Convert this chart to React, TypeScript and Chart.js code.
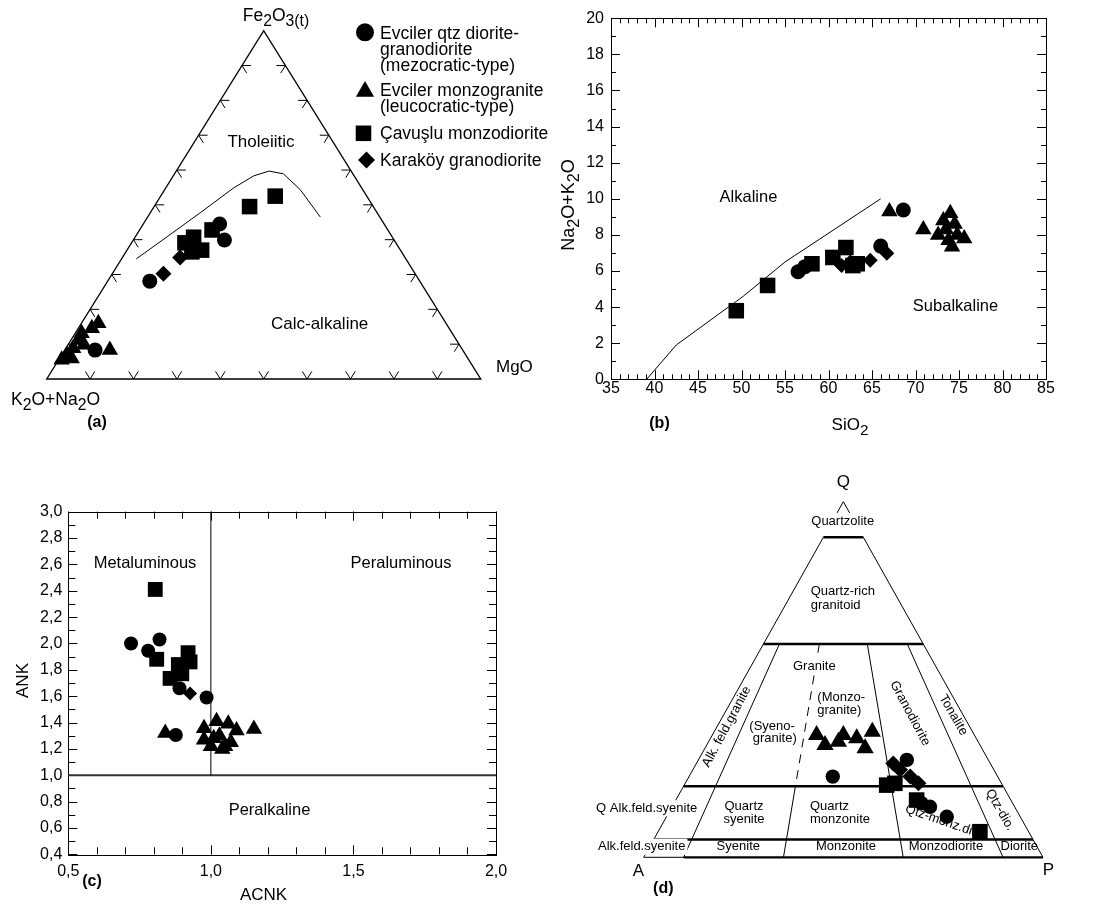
import React, { useEffect, useRef } from 'react';
import { Chart, registerables } from 'chart.js';

Chart.register(...registerables);

const FONT = '"Liberation Sans", Arial, Helvetica, sans-serif';
const INK = '#000000';

/* ---------- (a) AFM ternary: Fe2O3(t) top, MgO right, K2O+Na2O left (wt.% of the sum) ---------- */
const afmMezoFe = [44.5, 39.9, 28.1, 8.3];
const afmMezoMg = [17.6, 21.0, 9.7, 7.0];
const afmLeucoFe = [16.0, 14.6, 13.1, 11.2, 8.8, 6.9, 5.5, 5.9, 8.3, 9.8];
const afmLeucoMg = [3.9, 3.1, 1.5, 1.7, 1.7, 1.2, 0.7, 2.8, 10.4, 3.7];
const afmCavusluFe = [52.5, 49.5, 42.8, 40.7, 39.1, 37.0, 36.5];
const afmCavusluMg = [26.4, 22.0, 16.7, 13.5, 12.3, 17.2, 15.2];
const afmKarakoyFe = [30.2, 34.9];
const afmKarakoyMg = [11.8, 13.3];
// Tholeiitic / calc-alkaline boundary
const afmDividerFe = [34.5, 40.8, 47.7, 54.8, 58.3, 59.7, 58.9, 54.3, 46.5];
const afmDividerMg = [3.4, 7.3, 11.5, 15.6, 18.5, 21.4, 25.1, 31.3, 39.8];

/* ---------- (b) SiO2 vs Na2O+K2O ---------- */
const sio2Ticks = [35, 40, 45, 50, 55, 60, 65, 70, 75, 80, 85];
const alkTicks = [0, 2, 4, 6, 8, 10, 12, 14, 16, 18, 20];
const tasMezoSi = [56.5, 57.3, 66.0, 68.6];
const tasMezoAlk = [5.96, 6.24, 7.38, 9.38];
const tasLeucoSi = [67.0, 70.9, 72.6, 73.2, 74.0, 74.5, 75.6, 74.2, 73.8, 73.5, 74.8];
const tasLeucoAlk = [9.3, 8.3, 8.0, 8.8, 9.2, 8.6, 7.8, 7.35, 7.7, 8.3, 8.0];
const tasCavusluSi = [49.4, 53.0, 58.1, 60.5, 62.0, 62.8, 63.3];
const tasCavusluAlk = [3.8, 5.2, 6.4, 6.75, 7.3, 6.3, 6.4];
const tasKarakoySi = [61.5, 62.5, 64.8, 66.7];
const tasKarakoyAlk = [6.3, 6.5, 6.6, 6.98];
// Alkaline / subalkaline boundary
const tasDividerSi = [39.1, 42.5, 50.2, 55.0, 66.0];
const tasDividerAlk = [0, 1.9, 4.6, 6.5, 10.0];

/* ---------- (c) ACNK vs ANK ---------- */
const acnkTicks = [0.5, 1.0, 1.5, 2.0];
const ankTicks = [0.4, 0.6, 0.8, 1.0, 1.2, 1.4, 1.6, 1.8, 2.0, 2.2, 2.4, 2.6, 2.8, 3.0];
const shandMezoAcnk = [0.72, 0.82, 0.78, 0.89, 0.985, 0.877];
const shandMezoAnk = [2.0, 2.03, 1.945, 1.66, 1.59, 1.305];
const shandLeucoAcnk = [0.84, 0.976, 1.02, 1.061, 1.09, 1.151, 0.976, 1.0, 1.03, 1.05, 1.07, 1.04, 1.01];
const shandLeucoAnk = [1.32, 1.356, 1.41, 1.39, 1.34, 1.35, 1.27, 1.22, 1.3, 1.22, 1.25, 1.2, 1.28];
const shandCavusluAcnk = [0.805, 0.81, 0.92, 0.927, 0.886, 0.898, 0.857];
const shandCavusluAnk = [2.41, 1.88, 1.93, 1.86, 1.84, 1.77, 1.735];
const shandKarakoyAcnk = [0.927];
const shandKarakoyAnk = [1.62];
const shandHorizAcnk = [0.5, 2.0];
const shandHorizAnk = [1.0, 1.0];
const shandVertAcnk = [1.0, 1.0];
const shandVertAnk = [1.0, 3.0];

/* ---------- (d) QAP ternary: Q top, P right, A left (modal %) ---------- */
const qapMezoQ = [22.7, 27.4, 15.2, 14.2, 11.4];
const qapMezoP = [36.0, 52.2, 62.0, 64.6, 70.2];
const qapLeucoQ = [34.4, 31.6, 32.5, 34.4, 33.5, 30.7, 35.3];
const qapLeucoP = [26.1, 29.6, 32.5, 32.8, 36.6, 40.1, 39.6];
const qapCavusluQ = [20.3, 20.8, 16.1, 7.2];
const qapCavusluP = [50.7, 52.5, 60.3, 80.6];
const qapKarakoyQ = [26.4, 24.6, 22.7, 20.8];
const qapKarakoyP = [49.3, 51.9, 55.4, 58.4];
// Streckeisen field limits: Q levels and P/(A+P) ratios
const qapQLevels = [0.05, 0.2, 0.6, 0.9];
const qapRatios = [0.1, 0.35, 0.65, 0.9];

const legendRows = [
  { style: 'circle', lines: ['Evciler qtz diorite-', 'granodiorite', '(mezocratic-type)'] },
  { style: 'triangle', lines: ['Evciler monzogranite', '(leucocratic-type)'] },
  { style: 'rect', lines: ['Çavuşlu monzodiorite'] },
  { style: 'rectRot', lines: ['Karaköy granodiorite'] },
];

/* ---------- helpers ---------- */
const ternary = (top: number[], right: number[]) =>
  top.map((t, i) => ({ x: right[i] / 100 + t / 200, y: t / 100 }));
const pairs = (xs: number[], ys: number[]) => xs.map((x, i) => ({ x, y: ys[i] }));

function markers(data: any[], pointStyle: string, radius: number) {
  return {
    data, pointStyle, pointRadius: radius, pointHoverRadius: radius,
    backgroundColor: INK, borderColor: INK, borderWidth: 0, showLine: false, clip: false,
  };
}
function polyline(data: any[], width = 1, color = INK) {
  return {
    data, showLine: true, pointRadius: 0, pointHoverRadius: 0, borderColor: color,
    borderWidth: width, fill: false, tension: 0, clip: false,
  };
}

type Run = [string, boolean?];
function drawRich(ctx: CanvasRenderingContext2D, runs: Run[], x: number, y: number, size: number,
  align: 'left' | 'center' = 'left', angle = 0) {
  const main = `${size}px ${FONT}`;
  const sub = `${size * 0.9}px ${FONT}`;
  let w = 0;
  runs.forEach(([t, s]) => { ctx.font = s ? sub : main; w += ctx.measureText(t).width; });
  ctx.save();
  ctx.translate(x, y);
  ctx.rotate(angle);
  ctx.fillStyle = INK;
  ctx.textAlign = 'left';
  ctx.textBaseline = 'alphabetic';
  let cx = align === 'center' ? -w / 2 : 0;
  runs.forEach(([t, s]) => {
    ctx.font = s ? sub : main;
    ctx.fillText(t, cx, s ? size * 0.3 : 0);
    cx += ctx.measureText(t).width;
  });
  ctx.restore();
}

function drawText(ctx: CanvasRenderingContext2D, text: string, x: number, y: number,
  o: { size?: number; bold?: boolean; align?: CanvasTextAlign; angle?: number; bg?: boolean } = {}) {
  const size = o.size ?? 16;
  const align = o.align ?? 'center';
  ctx.save();
  ctx.translate(x, y);
  ctx.rotate(o.angle ?? 0);
  ctx.font = `${o.bold ? 'bold ' : ''}${size}px ${FONT}`;
  ctx.textAlign = align;
  ctx.textBaseline = 'middle';
  if (o.bg) {
    const w = ctx.measureText(text).width;
    const x0 = align === 'left' ? 0 : align === 'right' ? -w : -w / 2;
    ctx.fillStyle = '#ffffff';
    ctx.fillRect(x0 - 2, -size * 0.62, w + 4, size * 1.24);
  }
  ctx.fillStyle = INK;
  ctx.fillText(text, 0, 0);
  ctx.restore();
}

function drawMarker(ctx: CanvasRenderingContext2D, style: string, x: number, y: number, r: number) {
  ctx.beginPath();
  if (style === 'circle') {
    ctx.arc(x, y, r, 0, Math.PI * 2);
  } else if (style === 'triangle') {
    const a = (2 * Math.PI) / 3;
    ctx.moveTo(x, y - r);
    ctx.lineTo(x + r * Math.sin(a), y - r * Math.cos(a));
    ctx.lineTo(x + r * Math.sin(2 * a), y - r * Math.cos(2 * a));
  } else if (style === 'rect') {
    const s = r * Math.SQRT1_2;
    ctx.rect(x - s, y - s, 2 * s, 2 * s);
  } else {
    ctx.moveTo(x - r, y);
    ctx.lineTo(x, y - r);
    ctx.lineTo(x + r, y);
    ctx.lineTo(x, y + r);
  }
  ctx.closePath();
  ctx.fillStyle = INK;
  ctx.fill();
}

const baseOptions = (padding: any) => ({
  animation: false as const,
  responsive: false,
  events: [] as any[],
  layout: { padding },
  plugins: { legend: { display: false }, tooltip: { enabled: false } },
});

const hiddenUnitScales = {
  x: { type: 'linear', min: 0, max: 1, display: false },
  y: { type: 'linear', min: 0, max: 1, display: false },
};

function frameTicks(id: string, xMajor: number[], xMinor: number[], yMajor: number[], yMinor: number[],
  majorLen: number, minorLen: number) {
  return {
    id,
    beforeDatasetsDraw(chart: any) {
      const { ctx, chartArea: a } = chart;
      const sx = chart.scales.x;
      const sy = chart.scales.y;
      ctx.save();
      ctx.strokeStyle = INK;
      ctx.lineWidth = 1;
      ctx.beginPath();
      const tx = (v: number, len: number) => {
        const p = Math.round(sx.getPixelForValue(v)) + 0.5;
        ctx.moveTo(p, a.bottom); ctx.lineTo(p, a.bottom - len);
        ctx.moveTo(p, a.top); ctx.lineTo(p, a.top + len);
      };
      const ty = (v: number, len: number) => {
        const p = Math.round(sy.getPixelForValue(v)) + 0.5;
        ctx.moveTo(a.left, p); ctx.lineTo(a.left + len, p);
        ctx.moveTo(a.right, p); ctx.lineTo(a.right - len, p);
      };
      xMinor.forEach((v) => tx(v, minorLen));
      xMajor.forEach((v) => tx(v, majorLen));
      yMinor.forEach((v) => ty(v, minorLen));
      yMajor.forEach((v) => ty(v, majorLen));
      ctx.stroke();
      ctx.strokeRect(Math.round(a.left) + 0.5, Math.round(a.top) + 0.5,
        Math.round(a.right - a.left), Math.round(a.bottom - a.top));
      ctx.restore();
    },
  };
}

const range = (from: number, to: number, step: number) => {
  const out: number[] = [];
  for (let v = from; v <= to + 1e-9; v += step) out.push(Math.round(v * 1000) / 1000);
  return out;
};

/* ---------- (a) ---------- */
const afmDeco = {
  id: 'afmDeco',
  beforeDatasetsDraw(chart: any) {
    const { ctx } = chart;
    const sx = chart.scales.x;
    const sy = chart.scales.y;
    const pt = (fe: number, mg: number) => [sx.getPixelForValue(mg + fe / 2), sy.getPixelForValue(fe)];
    const [ax, ay] = pt(0, 0);
    const [fx, fy] = pt(1, 0);
    const [mx, my] = pt(0, 1);
    ctx.save();
    ctx.strokeStyle = INK;
    ctx.lineWidth = 1.4;
    ctx.beginPath();
    ctx.moveTo(ax, ay); ctx.lineTo(fx, fy); ctx.lineTo(mx, my); ctx.closePath();
    ctx.stroke();
    const unit = (dx: number, dy: number) => { const l = Math.hypot(dx, dy); return [dx / l, dy / l]; };
    const dAF = unit(fx - ax, fy - ay);
    const dMF = unit(fx - mx, fy - my);
    const dFM = [-dMF[0], -dMF[1]];
    const dFA = [-dAF[0], -dAF[1]];
    const L = 9;
    ctx.lineWidth = 1;
    ctx.beginPath();
    const tick = (x: number, y: number, d1: number[], d2: number[]) => {
      ctx.moveTo(x + d1[0] * L, y + d1[1] * L); ctx.lineTo(x, y); ctx.lineTo(x + d2[0] * L, y + d2[1] * L);
    };
    for (let i = 1; i <= 9; i++) {
      const f = i / 10;
      tick(ax + (fx - ax) * f, ay + (fy - ay) * f, [1, 0], dFM);
      tick(mx + (fx - mx) * f, my + (fy - my) * f, [-1, 0], dFA);
      tick(ax + (mx - ax) * f, ay, dAF, dMF);
    }
    ctx.stroke();
    ctx.restore();
  },
  afterDatasetsDraw(chart: any) {
    const { ctx } = chart;
    drawRich(ctx, [['Fe'], ['2', true], ['O'], ['3(t)', true]], 276, 21, 17.5, 'center');
    drawRich(ctx, [['K'], ['2', true], ['O+Na'], ['2', true], ['O']], 11, 405, 17.5, 'left');
    drawText(ctx, 'MgO', 496, 367, { size: 17, align: 'left' });
    drawText(ctx, '(a)', 97, 423, { size: 16, bold: true });
    drawText(ctx, 'Tholeiitic', 261, 142, { size: 17 });
    drawText(ctx, 'Calc-alkaline', 271, 324, { size: 17, align: 'left' });

    // legend
    const markerPos = [[365, 32.3, 9], [365, 91.5, 10.5], [363.5, 133.3, 11], [366.5, 160, 8.5]];
    const baselines = [[38.5, 54.5, 70.5], [95.5, 111.5], [138.8], [165.5]];
    legendRows.forEach((row, i) => {
      const [x, y, r] = markerPos[i];
      drawMarker(ctx, row.style, x, y, r);
      ctx.save();
      ctx.font = `17.5px ${FONT}`;
      ctx.fillStyle = INK;
      ctx.textAlign = 'left';
      ctx.textBaseline = 'alphabetic';
      row.lines.forEach((line, j) => ctx.fillText(line, 380, baselines[i][j]));
      ctx.restore();
    });
  },
};

const afmConfig = () => ({
  type: 'scatter',
  data: {
    datasets: [
      markers(ternary(afmCavusluFe, afmCavusluMg), 'rect', 11),
      markers(ternary(afmKarakoyFe, afmKarakoyMg), 'rectRot', 8),
      markers(ternary(afmMezoFe, afmMezoMg), 'circle', 7.5),
      markers(ternary(afmLeucoFe, afmLeucoMg), 'triangle', 9.5),
      polyline(ternary(afmDividerFe, afmDividerMg), 1),
    ],
  },
  options: { ...baseOptions({ left: 46.7, top: 30.7, right: 79.3, bottom: 61 }), scales: hiddenUnitScales },
  plugins: [afmDeco],
});

/* ---------- (b) ---------- */
const tasText = {
  id: 'tasText',
  afterDatasetsDraw(chart: any) {
    const { ctx } = chart;
    drawText(ctx, 'Alkaline', 208.5, 197, { size: 16.5 });
    drawText(ctx, 'Subalkaline', 415.5, 306, { size: 16.5 });
    drawText(ctx, '(b)', 119.5, 423.5, { size: 16, bold: true });
    drawRich(ctx, [['SiO'], ['2', true]], 310, 429.5, 17, 'center');
    drawRich(ctx, [['Na'], ['2', true], ['O+K'], ['2', true], ['O']], 33.5, 205, 18, 'center', -Math.PI / 2);
  },
};

const tasConfig = () => ({
  type: 'scatter',
  data: {
    datasets: [
      markers(pairs(tasMezoSi, tasMezoAlk), 'circle', 7.5),
      markers(pairs(tasKarakoySi, tasKarakoyAlk), 'rectRot', 7.5),
      markers(pairs(tasCavusluSi, tasCavusluAlk), 'rect', 11),
      markers(pairs(tasLeucoSi, tasLeucoAlk), 'triangle', 9.5),
      polyline(pairs(tasDividerSi, tasDividerAlk), 1),
    ],
  },
  options: {
    ...baseOptions({ left: 0, top: 18.3, right: 51, bottom: 0 }),
    scales: {
      x: {
        type: 'linear', min: 35, max: 85,
        grid: { display: false, drawTicks: false }, border: { display: false },
        ticks: { color: INK, font: { family: FONT, size: 16 }, padding: 0, autoSkip: false, maxRotation: 0,
          callback: (v: number) => String(v) },
        afterBuildTicks: (s: any) => { s.ticks = sio2Ticks.map((value) => ({ value })); },
        afterFit: (s: any) => { s.height = 60.7; },
      },
      y: {
        type: 'linear', min: 0, max: 20,
        grid: { display: false, drawTicks: false }, border: { display: false },
        ticks: { color: INK, font: { family: FONT, size: 16 }, padding: 7, autoSkip: false,
          callback: (v: number) => String(v) },
        afterBuildTicks: (s: any) => { s.ticks = alkTicks.map((value) => ({ value })); },
        afterFit: (s: any) => { s.width = 71; },
      },
    },
  },
  plugins: [frameTicks('tasFrame', sio2Ticks, range(35, 85, 1), alkTicks, range(0, 20, 1), 9, 5), tasText],
});

/* ---------- (c) ---------- */
const comma = (v: number) => v.toFixed(1).replace('.', ',');
const shandText = {
  id: 'shandText',
  afterDatasetsDraw(chart: any) {
    const { ctx } = chart;
    drawText(ctx, 'Metaluminous', 145, 123, { size: 16.5 });
    drawText(ctx, 'Peraluminous', 401, 123, { size: 16.5 });
    drawText(ctx, 'Peralkaline', 269.5, 370, { size: 16.5 });
    drawText(ctx, 'ANK', 23.5, 240.5, { size: 17, angle: -Math.PI / 2 });
    drawText(ctx, 'ACNK', 263.5, 455, { size: 17 });
    drawText(ctx, '(c)', 92, 441.5, { size: 16, bold: true });
  },
};

const shandConfig = () => ({
  type: 'scatter',
  data: {
    datasets: [
      markers(pairs(shandKarakoyAcnk, shandKarakoyAnk), 'rectRot', 7),
      markers(pairs(shandCavusluAcnk, shandCavusluAnk), 'rect', 10.5),
      markers(pairs(shandMezoAcnk, shandMezoAnk), 'circle', 7),
      markers(pairs(shandLeucoAcnk, shandLeucoAnk), 'triangle', 9.5),
      polyline(pairs(shandVertAcnk, shandVertAnk), 1),
      polyline(pairs(shandHorizAcnk, shandHorizAnk), 2, '#333333'),
    ],
  },
  options: {
    ...baseOptions({ left: 0, top: 71.7, right: 49, bottom: 0 }),
    scales: {
      x: {
        type: 'linear', min: 0.5, max: 2.0,
        grid: { display: false, drawTicks: false }, border: { display: false },
        ticks: { color: INK, font: { family: FONT, size: 16 }, padding: 8, autoSkip: false, maxRotation: 0,
          callback: (v: number) => comma(v) },
        afterBuildTicks: (s: any) => { s.ticks = acnkTicks.map((value) => ({ value })); },
        afterFit: (s: any) => { s.height = 49.7; },
      },
      y: {
        type: 'linear', min: 0.4, max: 3.0,
        grid: { display: false, drawTicks: false }, border: { display: false },
        ticks: { color: INK, font: { family: FONT, size: 16 }, padding: 6, autoSkip: false,
          callback: (v: number) => comma(v) },
        afterBuildTicks: (s: any) => { s.ticks = ankTicks.map((value) => ({ value })); },
        afterFit: (s: any) => { s.width = 68.3; },
      },
    },
  },
  plugins: [frameTicks('shandFrame', acnkTicks, range(0.5, 2.0, 0.1), ankTicks, range(0.4, 3.0, 0.1), 9, 7), shandText],
});

/* ---------- (d) ---------- */
const qapDeco = {
  id: 'qapDeco',
  beforeDatasetsDraw(chart: any) {
    const { ctx } = chart;
    const sx = chart.scales.x;
    const sy = chart.scales.y;
    const pt = (q: number, r: number) => {
      const p = (1 - q) * r;
      return [sx.getPixelForValue(p + q / 2), sy.getPixelForValue(q)];
    };
    const seg = (a: number[], b: number[], w: number, dash: number[] = []) => {
      ctx.save();
      ctx.strokeStyle = INK;
      ctx.lineWidth = w;
      ctx.setLineDash(dash);
      ctx.beginPath();
      ctx.moveTo(a[0], a[1]);
      ctx.lineTo(b[0], b[1]);
      ctx.stroke();
      ctx.restore();
    };
    const [, qMid, qHigh, qTop] = qapQLevels;
    const [r1, r2, r3, r4] = qapRatios;
    // outer edges, interrupted by the quartzolite label
    seg(pt(0, 0), pt(qTop, 0), 1);
    seg(pt(0.965, 0), pt(1, 0), 1);
    seg(pt(0, 1), pt(qTop, 1), 1);
    seg(pt(0.965, 1), pt(1, 1), 1);
    // base
    seg(pt(0, 0), pt(0, r1), 1);
    seg(pt(0, r1), pt(0, 1), 2.2);
    // Q levels
    qapQLevels.forEach((q) => seg(pt(q, 0), pt(q, 1), 2.5));
    // P/(A+P) limits
    seg(pt(qHigh, r1), pt(0, r1), 1);
    seg(pt(qHigh, r2), pt(qMid, r2), 1, [9, 7]);
    seg(pt(qMid, r2), pt(0, r2), 1);
    seg(pt(qHigh, r3), pt(0, r3), 1);
    seg(pt(qHigh, r4), pt(0, r4), 1);

    const s = 13;
    drawText(ctx, 'Q', 298.3, 42.7, { size: 17 });
    drawText(ctx, 'Quartzolite', 297.7, 81, { size: s, bg: true });
    drawText(ctx, 'Quartz-rich', 265.7, 151.7, { size: s, align: 'left' });
    drawText(ctx, 'granitoid', 265.7, 165.7, { size: s, align: 'left' });
    drawText(ctx, 'Granite', 269.3, 226, { size: s, bg: true });
    drawText(ctx, '(Monzo-', 272.3, 257.3, { size: s, align: 'left' });
    drawText(ctx, 'granite)', 272.3, 270, { size: s, align: 'left' });
    drawText(ctx, '(Syeno-', 204.3, 286, { size: s, align: 'left' });
    drawText(ctx, 'granite)', 207.7, 298.3, { size: s, align: 'left' });
    drawText(ctx, 'Alk. feld.granite', 181.7, 286.7, { size: s, angle: (-62 * Math.PI) / 180 });
    drawText(ctx, 'Granodiorite', 365, 273.3, { size: s, angle: (62 * Math.PI) / 180 });
    drawText(ctx, 'Tonalite', 408.3, 275, { size: s, angle: (60 * Math.PI) / 180 });
    drawText(ctx, 'Qtz-dio.', 455, 370, { size: s, angle: (60 * Math.PI) / 180 });
    drawText(ctx, 'Qtz-monz.dio.', 399, 381.7, { size: s, angle: (19 * Math.PI) / 180 });
    drawText(ctx, 'Q Alk.feld.syenite', 101.7, 368.3, { size: s, bg: true });
    drawText(ctx, 'Quartz', 199, 366, { size: s });
    drawText(ctx, 'syenite', 199, 379.3, { size: s });
    drawText(ctx, 'Quartz', 265, 366, { size: s, align: 'left' });
    drawText(ctx, 'monzonite', 265, 379.3, { size: s, align: 'left' });
    drawText(ctx, 'Alk.feld.syenite', 96.7, 406.7, { size: s, bg: true });
    drawText(ctx, 'Syenite', 193.3, 406.7, { size: s });
    drawText(ctx, 'Monzonite', 301, 406.7, { size: s });
    drawText(ctx, 'Monzodiorite', 401, 406, { size: s });
    drawText(ctx, 'Diorite', 474.3, 406, { size: s });
    drawText(ctx, 'A', 93.3, 431.7, { size: 17 });
    drawText(ctx, 'P', 503.3, 430, { size: 17 });
    drawText(ctx, '(d)', 118.3, 448.3, { size: 16, bold: true });
  },
};

const qapConfig = () => ({
  type: 'scatter',
  data: {
    datasets: [
      markers(ternary(qapCavusluQ, qapCavusluP), 'rect', 11),
      markers(ternary(qapMezoQ, qapMezoP), 'circle', 7.2),
      markers(ternary(qapKarakoyQ, qapKarakoyP), 'rectRot', 8),
      markers(ternary(qapLeucoQ, qapLeucoP), 'triangle', 10),
    ],
  },
  options: { ...baseOptions({ left: 98.7, top: 61.7, right: 54, bottom: 46.7 }), scales: hiddenUnitScales },
  plugins: [qapDeco],
});

function Panel({ left, top, width, height, build }: {
  left: number; top: number; width: number; height: number; build: () => any;
}) {
  const ref = useRef<HTMLCanvasElement>(null);
  useEffect(() => {
    const chart = new Chart(ref.current as HTMLCanvasElement, build());
    return () => chart.destroy();
  }, []);
  return (
    <canvas ref={ref} width={width} height={height}
      style={{ position: 'absolute', left, top, width, height }} />
  );
}

export default function App() {
  return (
    <div style={{ position: 'absolute', left: 0, top: 0, width: 1097, height: 904, background: '#ffffff', overflow: 'hidden' }}>
      <Panel left={0} top={0} width={560} height={440} build={afmConfig} />
      <Panel left={540} top={0} width={557} height={440} build={tasConfig} />
      <Panel left={0} top={440} width={545} height={464} build={shandConfig} />
      <Panel left={545} top={440} width={552} height={464} build={qapConfig} />
    </div>
  );
}
